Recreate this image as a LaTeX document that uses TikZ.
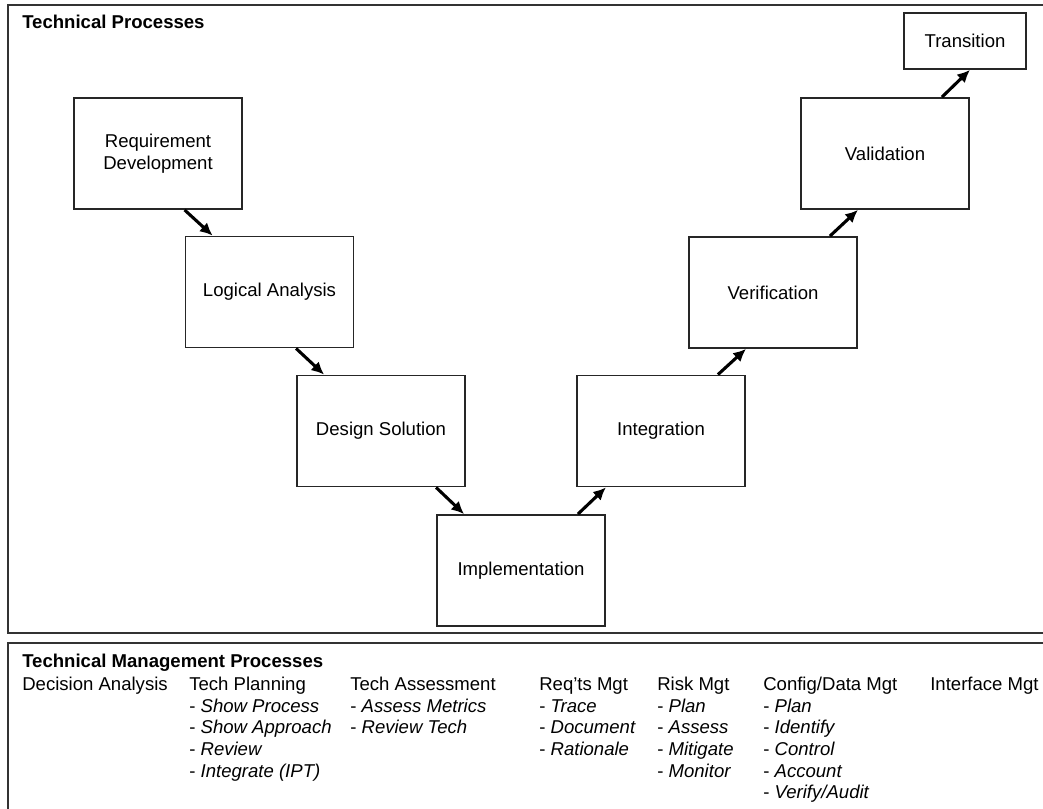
\documentclass[tikz,border=0pt]{standalone}
\usepackage{fontspec}
\setmainfont{Liberation Sans}
\usetikzlibrary{positioning,arrows.meta}

\begin{document}
\begin{tikzpicture}[
    x=0.025cm, y=-0.025cm,
    every node/.style={font=\fontsize{13.2}{15.4}\selectfont, align=center},
    stage/.style={rectangle, draw=black!85, line width=1.3pt, minimum width=4.2cm, minimum height=2.775cm, inner sep=2pt},
    arr/.style={-{Latex[length=9pt,width=8.5pt]}, line width=2.2pt},
    frame/.style={draw=black!80, line width=1.5pt},
    col/.style={anchor=north west, align=left, inner sep=0pt},
    heading/.style={anchor=base west, inner sep=0pt, font=\fontsize{13.2}{15.4}\selectfont\bfseries}
]
\useasboundingbox (0,0) rectangle (1043,808);

% Frames (open to the right and bottom)
\draw[frame] (1050,5) -- (8,5) -- (8,633) -- (1050,633);
\draw[frame] (1050,643) -- (8,643) -- (8,815);

% Technical processes (V shape)
\node[heading] (techtitle) at (22,29) {Technical Processes};
\node[stage] (reqdev) at (158,153.5) {Requirement\\Development};
\node[stage] (logical) at (269.5,292) {Logical Analysis};
\node[stage] (design) at (381,431) {Design Solution};
\node[stage] (impl) at (521,570.5) {Implementation};
\node[stage] (integ) at (661,431) {Integration};
\node[stage] (verif) at (773,292.5) {Verification};
\node[stage] (valid) at (885,153.5) {Validation};
\node[stage, minimum width=3.05cm, minimum height=1.4cm] (trans) at (965,41) {Transition};

% Arrows down the left side
\draw[arr] (reqdev.south -| logical.west) -- ([xshift=0.7cm]logical.north west);
\draw[arr] (logical.south -| design.west) -- ([xshift=0.7cm]design.north west);
\draw[arr] (design.south -| impl.west) -- ([xshift=0.7cm]impl.north west);

% Arrows up the right side
\draw[arr] ([xshift=-0.7cm]impl.north east) -- (impl.east |- integ.south);
\draw[arr] ([xshift=-0.7cm]integ.north east) -- (integ.east |- verif.south);
\draw[arr] ([xshift=-0.7cm]verif.north east) -- (verif.east |- valid.south);
\draw[arr] ([xshift=-0.7cm]valid.north east) -- (valid.east |- trans.south);

% Technical management processes
\node[heading] (mgttitle) at (22,667) {Technical Management Processes};
\node[col] (decision) at (22,675) {\strut Decision Analysis};
\node[col] (planning) at (189,675) {\strut Tech Planning\\- \textit{Show Process}\\- \textit{Show Approach}\\- \textit{Review}\\- \textit{Integrate (IPT)}};
\node[col] (assess) at (350,675) {\strut Tech Assessment\\- \textit{Assess Metrics}\\- \textit{Review Tech}};
\node[col] (reqmgt) at (539,675) {\strut Req'ts Mgt\\- \textit{Trace}\\- \textit{Document}\\- \textit{Rationale}};
\node[col] (riskmgt) at (657,675) {\strut Risk Mgt\\- \textit{Plan}\\- \textit{Assess}\\- \textit{Mitigate}\\- \textit{Monitor}};
\node[col] (configmgt) at (763,675) {\strut Config/Data Mgt\\- \textit{Plan}\\- \textit{Identify}\\- \textit{Control}\\- \textit{Account}\\- \textit{Verify/Audit}};
\node[col] (interfacemgt) at (930,675) {\strut Interface Mgt};
\end{tikzpicture}
\end{document}
